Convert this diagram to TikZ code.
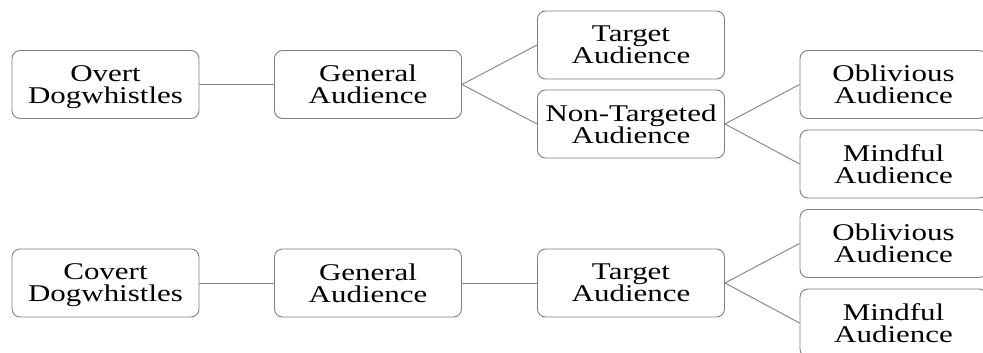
\documentclass[tikz,border=0pt]{standalone}
\usepackage{fontspec}
\usepackage{graphicx}
\newfontfamily\boxfont{Liberation Serif}
\newcommand\myboxfontsel{\boxfont\fontsize{24}{22}\selectfont\lineskip=2.5pt\relax}
\newcommand\sx[1]{\scalebox{1.29}[1]{#1}}
\tikzset{
  box/.style={draw=black!50, line width=0.9pt, rounded corners=8pt,
    minimum width=187pt, minimum height=68pt, inner sep=0pt, text depth=0pt,
    align=center, font=\myboxfontsel, text=black},
  link/.style={draw=black!50, line width=0.9pt}
}
\begin{document}
\begin{tikzpicture}[x=1pt,y=-1pt]
\useasboundingbox (0,0) rectangle (983,353);
\clip (0,0) rectangle (983,353);
% top tree
\node[box] (overt) at (105.5,84.5) {\sx{Overt}\\\sx{Dogwhistles}};
\node[box] (gentop) at (368,84.5) {\sx{General}\\\sx{Audience}};
\node[box] (tgttop) at (631,45) {\sx{Target}\\\sx{Audience}};
\node[box] (nontgt) at (631,124) {\sx{Non-Targeted}\\\sx{Audience}};
\node[box] (obltop) at (893.5,84.5) {\sx{Oblivious}\\\sx{Audience}};
\node[box] (mndtop) at (893.5,164) {\sx{Mindful}\\\sx{Audience}};
% bottom tree
\node[box] (covert) at (105.5,283) {\sx{Covert}\\\sx{Dogwhistles}};
\node[box] (genbot) at (368,283) {\sx{General}\\\sx{Audience}};
\node[box] (tgtbot) at (631,283) {\sx{Target}\\\sx{Audience}};
\node[box] (oblbot) at (893.5,243.5) {\sx{Oblivious}\\\sx{Audience}};
\node[box] (mndbot) at (893.5,323) {\sx{Mindful}\\\sx{Audience}};
% connectors
\draw[link] (overt.east) -- (gentop.west);
\draw[link] (gentop.east) -- (tgttop.west);
\draw[link] (gentop.east) -- (nontgt.west);
\draw[link] (nontgt.east) -- (obltop.west);
\draw[link] (nontgt.east) -- (mndtop.west);
\draw[link] (covert.east) -- (genbot.west);
\draw[link] (genbot.east) -- (tgtbot.west);
\draw[link] (tgtbot.east) -- (oblbot.west);
\draw[link] (tgtbot.east) -- (mndbot.west);
\end{tikzpicture}
\end{document}
